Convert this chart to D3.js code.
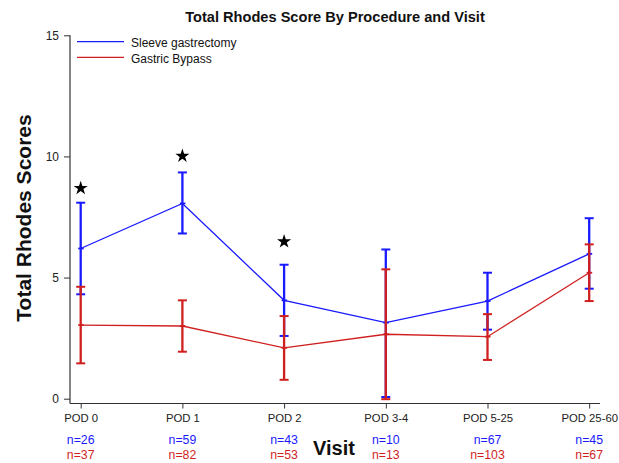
<!DOCTYPE html>
<html>
<head>
<meta charset="utf-8">
<script src="https://cdn.jsdelivr.net/npm/d3@7"></script>
<style>
  html, body { margin: 0; padding: 0; background: #fff; }
  svg { display: block; font-family: "Liberation Sans", Arial, sans-serif; }
</style>
</head>
<body>
<svg id="chart" width="619" height="463"></svg>
<script>
// ---- data ----
const categories = ["POD 0", "POD 1", "POD 2", "POD 3-4", "POD 5-25", "POD 25-60"];
const sleeveMean  = [6.20, 8.06, 4.06, 3.14, 4.03, 5.98];
const sleeveUpper = [8.09, 9.34, 5.53, 6.16, 5.20, 7.45];
const sleeveLower = [4.31, 6.82, 2.59, 0.07, 2.85, 4.54];
const bypassMean  = [3.04, 3.00, 2.10, 2.66, 2.56, 5.20];
const bypassUpper = [4.62, 4.06, 3.41, 5.34, 3.49, 6.37];
const bypassLower = [1.46, 1.94, 0.78, -0.02, 1.60, 4.03];
const sleeveN = [26, 59, 43, 10, 67, 45];
const bypassN = [37, 82, 53, 13, 103, 67];
const starCategories = ["POD 0", "POD 1", "POD 2"];
const starValues = [8.72, 10.05, 6.52];
const yTicks = [0, 5, 10, 15];
const seriesNames = ["Sleeve gastrectomy", "Gastric Bypass"];

const BLUE = "#1a1aff";
const RED = "#d01f1f";
const AXIS = "#333";

const svg = d3.select("#chart");

const x = d3.scalePoint().domain(categories).range([80.7, 589.2]).padding(0);
const y = d3.scaleLinear().domain([0, 15]).range([398.7, 35.3]);

// title
svg.append("text")
  .attr("x", 335).attr("y", 22)
  .attr("text-anchor", "middle")
  .attr("font-weight", "bold")
  .attr("font-size", 14.6)
  .attr("fill", "#111")
  .text("Total Rhodes Score By Procedure and Visit");

// y axis
const yAxis = d3.axisLeft(y).tickValues(yTicks).tickSize(6).tickPadding(5).tickFormat(d3.format("d"));
const gy = svg.append("g").attr("transform", "translate(70,0)").call(yAxis);
gy.select(".domain").remove();
gy.selectAll(".tick line").attr("stroke", AXIS);
gy.selectAll(".tick text").attr("font-size", 12).attr("fill", "#222")
  .attr("font-family", "Liberation Sans, Arial, sans-serif");
svg.append("line").attr("x1", 70).attr("x2", 70).attr("y1", y(15)).attr("y2", 403.5)
  .attr("stroke", AXIS).attr("stroke-width", 1.2);

// x axis
const xAxis = d3.axisBottom(x).tickSize(5).tickPadding(5);
const gx = svg.append("g").attr("transform", "translate(0,403.5)").call(xAxis);
gx.select(".domain").remove();
gx.selectAll(".tick line").attr("stroke", AXIS);
gx.selectAll(".tick text").attr("font-size", 11.3).attr("fill", "#222")
  .attr("font-family", "Liberation Sans, Arial, sans-serif");
svg.append("line").attr("x1", 70).attr("x2", 600).attr("y1", 403.5).attr("y2", 403.5)
  .attr("stroke", AXIS).attr("stroke-width", 1.2);

// n labels
svg.append("g").selectAll("text").data(categories).join("text")
  .attr("x", d => x(d)).attr("y", 444)
  .attr("text-anchor", "middle").attr("font-size", 12.3).attr("fill", BLUE)
  .text((d, i) => "n=" + sleeveN[i]);
svg.append("g").selectAll("text").data(categories).join("text")
  .attr("x", d => x(d)).attr("y", 458.5)
  .attr("text-anchor", "middle").attr("font-size", 12.3).attr("fill", RED)
  .text((d, i) => "n=" + bypassN[i]);

// axis titles
svg.append("text")
  .attr("x", 334).attr("y", 454.5)
  .attr("text-anchor", "middle").attr("font-weight", "bold").attr("font-size", 20)
  .attr("fill", "#111").text("Visit");
svg.append("text")
  .attr("transform", "translate(31,218) rotate(-90)")
  .attr("text-anchor", "middle").attr("font-weight", "bold").attr("font-size", 21)
  .attr("fill", "#111").text("Total Rhodes Scores");

// series drawing
function drawSeries(mean, upper, lower, color) {
  const g = svg.append("g");
  const line = d3.line().x((d, i) => x(categories[i])).y(d => y(d));
  g.append("path").datum(mean).attr("d", line)
    .attr("fill", "none").attr("stroke", color).attr("stroke-width", 1.3);
  const cap = 4.5;
  categories.forEach((c, i) => {
    const cx = x(c);
    g.append("line").attr("x1", cx).attr("x2", cx).attr("y1", y(upper[i])).attr("y2", y(lower[i]))
      .attr("stroke", color).attr("stroke-width", 2.3);
    g.append("line").attr("x1", cx - cap).attr("x2", cx + cap).attr("y1", y(upper[i])).attr("y2", y(upper[i]))
      .attr("stroke", color).attr("stroke-width", 2);
    g.append("line").attr("x1", cx - cap).attr("x2", cx + cap).attr("y1", y(lower[i])).attr("y2", y(lower[i]))
      .attr("stroke", color).attr("stroke-width", 2);
    g.append("line").attr("x1", cx - 2.5).attr("x2", cx + 3).attr("y1", y(mean[i])).attr("y2", y(mean[i]))
      .attr("stroke", color).attr("stroke-width", 1.8);
  });
}
drawSeries(sleeveMean, sleeveUpper, sleeveLower, BLUE);
drawSeries(bypassMean, bypassUpper, bypassLower, RED);

// stars
svg.append("g").selectAll("path").data(starCategories).join("path")
  .attr("d", d3.symbol().type(d3.symbolStar).size(62))
  .attr("transform", (d, i) => `translate(${x(d)},${y(starValues[i]) + 0.8})`)
  .attr("fill", "#000");

// legend
const legendColors = [BLUE, RED];
const lg = svg.append("g");
seriesNames.forEach((name, i) => {
  const ly = 41.7 + i * 15.6;
  lg.append("line").attr("x1", 77).attr("x2", 124).attr("y1", ly).attr("y2", ly)
    .attr("stroke", legendColors[i]).attr("stroke-width", 1.3);
  lg.append("text").attr("x", 131).attr("y", ly + 5.6)
    .attr("font-size", 12).attr("fill", "#111").text(name);
});
</script>
</body>
</html>
